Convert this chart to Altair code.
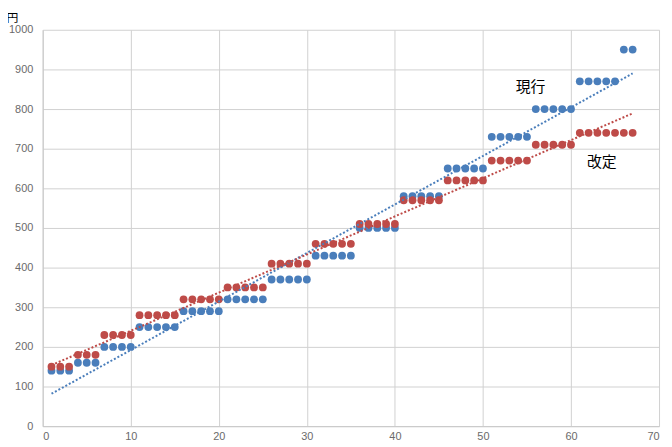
import altair as alt
import pandas as pd

# Data
x_vals = list(range(1, 68))
current = ([140] * 3 + [160] * 3 + [200] * 4 + [250] * 5 + [290] * 5 + [320] * 5 +
           [370] * 5 + [430] * 5 + [500] * 5 + [580] * 5 + [650] * 5 + [730] * 5 +
           [800] * 5 + [870] * 5 + [950] * 2)
revised = ([150] * 3 + [180] * 3 + [230] * 4 + [280] * 5 + [320] * 5 + [350] * 5 +
           [410] * 5 + [460] * 5 + [510] * 5 + [570] * 5 + [620] * 5 + [670] * 5 +
           [710] * 5 + [740] * 7)
series_names = ["現行", "改定"]
series_colors = ["#4a7ebb", "#be4b48"]

label_text = ["現行", "改定"]
label_x = [55.4, 63.5]
label_y = [855, 666]

x_ticks = list(range(0, 71, 10))
y_ticks = list(range(0, 1001, 100))

rows = []
for xv, c, r in zip(x_vals, current, revised):
    rows.append({"x": xv, "y": c, "s": series_names[0]})
    rows.append({"x": xv, "y": r, "s": series_names[1]})
df = pd.DataFrame(rows)
df_lab = pd.DataFrame({"t": label_text, "x": label_x, "y": label_y})

xs = alt.Scale(domain=[0, 70], nice=False)
ys = alt.Scale(domain=[0, 1000], nice=False)
cs = alt.Scale(domain=series_names, range=series_colors)

xax = alt.Axis(values=x_ticks, grid=True, gridColor="#d0d0d0", ticks=False,
               domainColor="#c8c8c8", labelColor="#6a6a6a", labelFont="Liberation Sans",
               labelFontSize=11, labelPadding=4, format="d", labelOverlap=False, title=None)
yax = alt.Axis(values=y_ticks, grid=True, gridColor="#d0d0d0", ticks=False,
               domainColor="#c8c8c8", labelColor="#6a6a6a", labelFont="Liberation Sans",
               labelFontSize=11, labelPadding=10, format="d", labelOverlap=False,
               title="円", titleAngle=0,
               titleX=-31, titleY=-8, titleAlign="center", titleBaseline="alphabetic",
               titleFont="Noto Sans CJK JP", titleFontSize=12, titleFontWeight="normal",
               titleColor="#000000")

X = alt.X("x:Q", scale=xs, axis=xax)
Y = alt.Y("y:Q", scale=ys, axis=yax)
C = alt.Color("s:N", scale=cs, legend=None)

base = alt.Chart(df)

pts_blue = base.transform_filter(alt.datum.s == series_names[0]).mark_circle(size=62, opacity=1).encode(
    x=X, y=Y, color=C,
)
pts_red = base.transform_filter(alt.datum.s == series_names[1]).mark_circle(size=62, opacity=1).encode(
    x=X, y=Y, color=C,
)

trend = base.transform_regression("x", "y", groupby=["s"], extent=[1, 67]).mark_line(
    strokeWidth=2, strokeDash=[2, 2]
).encode(
    x=X, y=Y, color=C, detail="s:N",
)

labels = alt.Chart(df_lab).mark_text(font="Noto Sans CJK JP", fontSize=15, color="#000000").encode(
    x=X, y=Y, text="t:N",
)

chart = alt.layer(pts_blue, pts_red, trend, labels).properties(
    width=622, height=400,
    autosize=alt.AutoSizeParams(type="none"),
    padding={"left": 35, "top": 20, "right": 5, "bottom": 14},
).configure_view(stroke=None)

chart.save("out.html", embed_options={"renderer": "svg", "actions": False})
